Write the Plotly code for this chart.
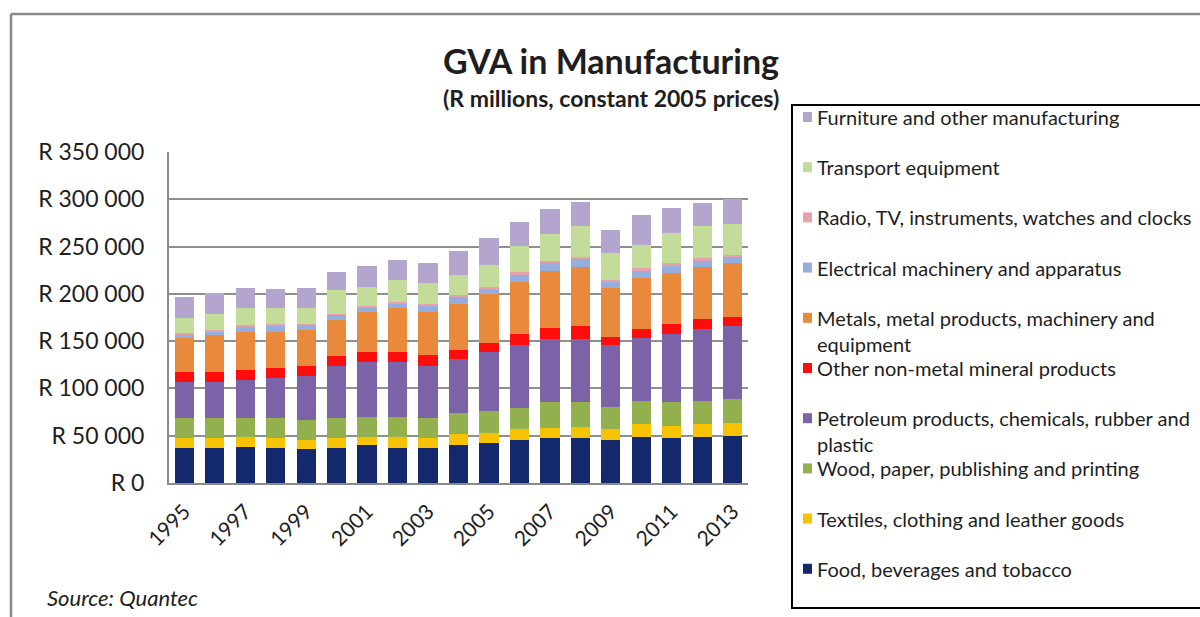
import plotly.graph_objects as go

# ---- data (R millions, constant 2005 prices) ----
years = list(range(1995, 2014))

food = [37300, 37300, 38300, 37300, 35500, 37300, 39800, 37300, 37300, 40100,
        42600, 45100, 47200, 47200, 45100, 48600, 47200, 48600, 49700]
textiles = [10600, 10600, 10300, 9900, 9600, 9900, 8900, 11400, 9900, 11400,
            10700, 11700, 11400, 12100, 11700, 14200, 13100, 13500, 14200]
wood = [20600, 20600, 19900, 21300, 21300, 21300, 21300, 21300, 21300, 22400,
        23100, 22400, 26600, 25900, 23100, 24100, 24900, 24100, 24900]
petroleum = [38000, 38000, 40500, 42600, 47200, 55700, 57900, 57900, 55700, 56800,
             62100, 66400, 67500, 67500, 65700, 66400, 72100, 77000, 77000]
nonmetal = [10600, 10600, 10600, 10600, 10300, 9600, 10600, 10600, 11400, 10300,
            9900, 11700, 11400, 13100, 8900, 9900, 10600, 10600, 9900]
metals = [36600, 39000, 40100, 38000, 37600, 39000, 42600, 46200, 45400, 48300,
          51500, 55700, 59600, 62500, 51500, 53300, 54000, 54300, 56800]
electrical = [3500, 4200, 5600, 6600, 5600, 4900, 4500, 5500, 6600, 7800,
              6000, 7600, 8500, 8500, 7000, 8600, 8600, 7600, 6900]
radio = [1200, 1100, 1500, 1600, 1500, 1500, 1500, 1600, 1600, 1800,
         1800, 2000, 2200, 2200, 1900, 2100, 2100, 2000, 2000]
transport = [16000, 17800, 17800, 16700, 16000, 24900, 20600, 23100, 22000, 21300,
             23100, 27700, 28400, 32700, 28400, 24900, 32000, 33700, 32000]
furniture = [22000, 22000, 21300, 20200, 22000, 18500, 22000, 21300, 21300, 24900,
             28400, 25600, 27300, 25600, 24100, 30900, 26600, 24900, 27300]

series_names = [
    "Food, beverages and tobacco",
    "Textiles, clothing and leather goods",
    "Wood, paper, publishing and printing",
    "Petroleum products, chemicals, rubber and<br>plastic",
    "Other non-metal mineral products",
    "Metals, metal products, machinery and<br>equipment",
    "Electrical machinery and apparatus",
    "Radio, TV, instruments, watches and clocks",
    "Transport equipment",
    "Furniture and other manufacturing",
]
series_values = [food, textiles, wood, petroleum, nonmetal, metals,
                 electrical, radio, transport, furniture]
series_colors = ["#13296b", "#f7c200", "#92b04e", "#7c62a6", "#ff0d0d",
                 "#e8893c", "#94aee0", "#e6a2ab", "#c4dc9a", "#b3a5cd"]

y_tickvals = [0, 50000, 100000, 150000, 200000, 250000, 300000, 350000]
y_ticktext = ["R 0", "R 50 000", "R 100 000", "R 150 000", "R 200 000",
              "R 250 000", "R 300 000", "R 350 000"]
x_tickvals = list(range(1995, 2014, 2))

FONT = "Lato"
TEXT = "#1e1e1e"

# plot-area pixel box, used to place decorations in paper coordinates
L, R, T, B = 169, 748, 152, 483


def px(x):
    return (x - L) / (R - L)


def py(y):
    return (B - y) / (B - T)


fig = go.Figure()
for name, vals, col in zip(series_names, series_values, series_colors):
    fig.add_trace(go.Bar(
        x=years, y=vals, name=name.replace("<br>", " "),
        marker=dict(color=col, line=dict(width=0)),
        showlegend=False,
    ))

shapes = []
annotations = []

# outer chart frame (top and left edges)
shapes.append(dict(type="line", xref="paper", yref="paper",
                   x0=px(11), x1=px(1205), y0=py(14), y1=py(14),
                   line=dict(color="#8a8a8a", width=2.5)))
shapes.append(dict(type="line", xref="paper", yref="paper",
                   x0=px(11), x1=px(11), y0=py(14), y1=py(620),
                   line=dict(color="#8a8a8a", width=2.5)))

# legend box
shapes.append(dict(type="rect", xref="paper", yref="paper",
                   x0=px(792), x1=px(1210), y0=py(608), y1=py(105),
                   line=dict(color="#000000", width=2), fillcolor="rgba(0,0,0,0)"))

# legend entries, top item is the last stacked series
row_y0, row_step = 117, 50.2
for i, idx in enumerate(range(len(series_names) - 1, -1, -1)):
    cy = row_y0 + i * row_step
    shapes.append(dict(type="rect", xref="paper", yref="paper",
                       x0=px(803), x1=px(812), y0=py(cy + 5), y1=py(cy - 5),
                       line=dict(width=0), fillcolor=series_colors[idx]))
    annotations.append(dict(
        xref="paper", yref="paper", x=px(815), y=py(cy - 14),
        xanchor="left", yanchor="top", align="left", showarrow=False,
        text=series_names[idx],
        font=dict(family=FONT, size=20, color=TEXT),
    ))

# titles and source note
annotations.append(dict(xref="paper", yref="paper", x=px(611), y=py(60),
                        xanchor="center", yanchor="middle", showarrow=False,
                        text="<b>GVA in Manufacturing</b>",
                        font=dict(family=FONT, size=34, color=TEXT)))
annotations.append(dict(xref="paper", yref="paper", x=px(611), y=py(98),
                        xanchor="center", yanchor="middle", showarrow=False,
                        text="<b>(R millions, constant 2005 prices)</b>",
                        font=dict(family=FONT, size=23, color=TEXT)))
annotations.append(dict(xref="paper", yref="paper", x=px(45), y=py(597),
                        xanchor="left", yanchor="middle", showarrow=False,
                        text="<i>Source: Quantec</i>",
                        font=dict(family=FONT, size=22, color=TEXT)))

fig.update_layout(
    width=1200, height=617,
    margin=dict(l=L, r=1200 - R, t=T, b=617 - B, pad=0),
    paper_bgcolor="white", plot_bgcolor="white",
    barmode="stack", bargap=0.37,
    shapes=shapes, annotations=annotations,
    showlegend=False,
    font=dict(family=FONT, color=TEXT),
)
fig.update_xaxes(
    range=[1994.5, 2013.5], tickmode="array", tickvals=x_tickvals,
    ticktext=[str(v) for v in x_tickvals], tickangle=-45,
    tickfont=dict(family=FONT, size=21, color=TEXT),
    showline=True, linecolor="#8a8a8a", linewidth=2,
    showgrid=False, zeroline=False, ticks="", ticklabelstandoff=6,
)
fig.update_yaxes(
    range=[0, 350000], tickmode="array", tickvals=y_tickvals, ticktext=y_ticktext,
    tickfont=dict(family=FONT, size=23, color=TEXT),
    showline=True, linecolor="#8a8a8a", linewidth=2,
    showgrid=True, gridcolor="#8f8f8f", gridwidth=1.5,
    zeroline=False, ticks="", ticklabelstandoff=18,
)

fig.write_html("out.html")
